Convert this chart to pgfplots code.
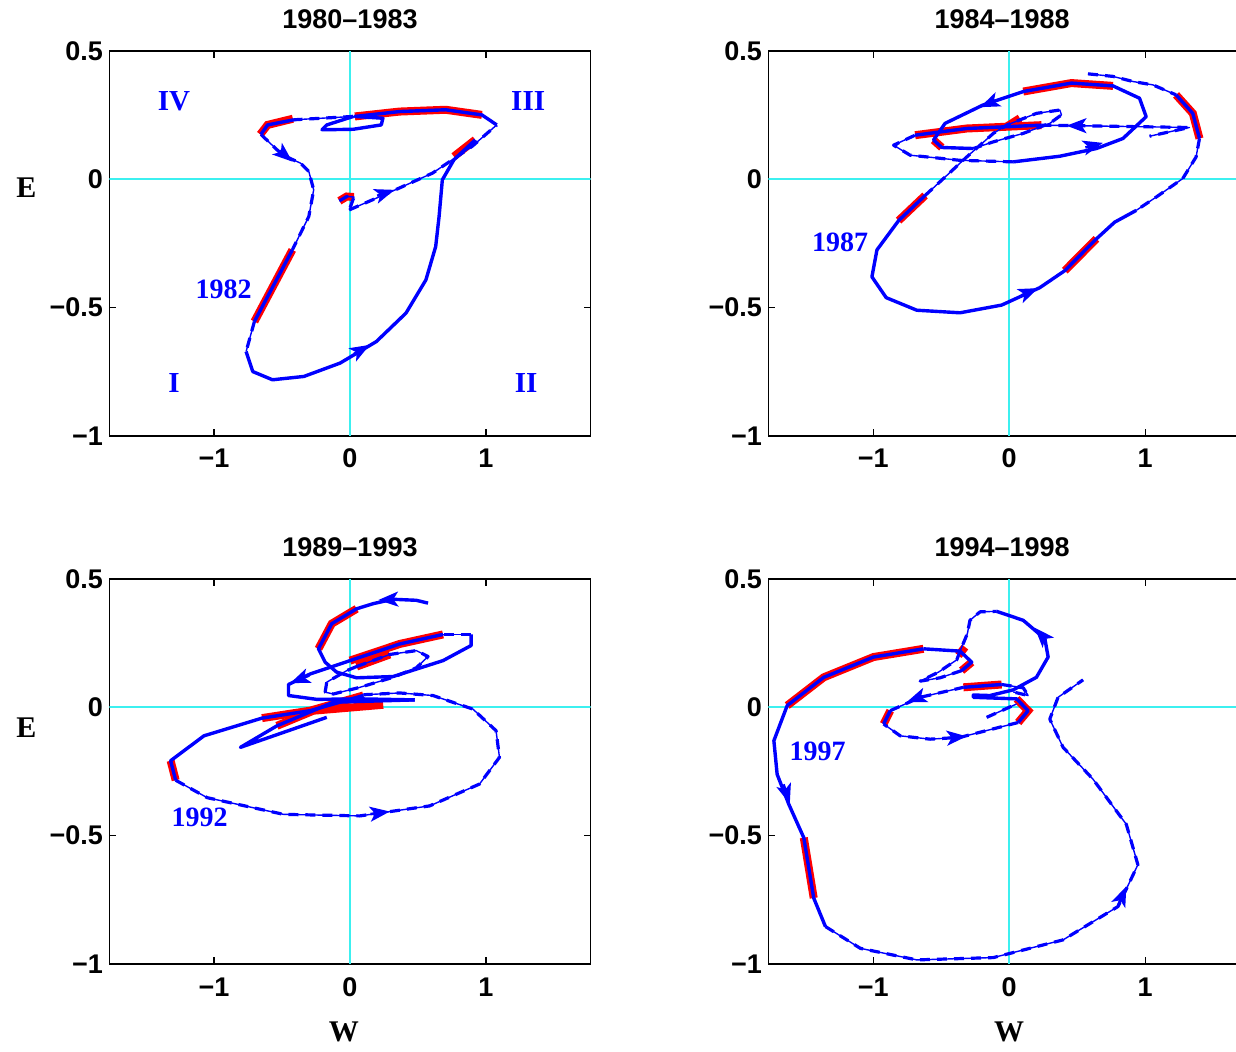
\documentclass[border=0pt]{standalone}
\usepackage{pgfplots}
\pgfplotsset{compat=1.18}
\usetikzlibrary{arrows.meta}
\usepackage{fontspec}
\setmainfont{Liberation Serif}
\setsansfont{Liberation Sans}
\definecolor{zcyan}{RGB}{60,240,240}

\pgfplotsset{
  panel/.style={
    scale only axis, height=192.5pt,
    ymin=-1, ymax=0.5, ytick={-1,-0.5,0,0.5}, yticklabels={−1,−0.5,0,0.5},
    xtick={-1,0,1}, xticklabels={−1,0,1},
    tick align=inside, major tick length=3.5pt,
    axis line style={black, line width=0.7pt},
    tick style={black, line width=0.6pt},
    ticklabel style={font=\sffamily\bfseries\fontsize{13.5}{14}\selectfont},
    xticklabel style={anchor=base, yshift=-16pt},
    yticklabel style={anchor=east, inner sep=0pt, xshift=-3pt},
    every axis title/.style={at={(0.5,1)}, anchor=base, yshift=11pt,
      font=\sffamily\bfseries\fontsize{13.5}{14}\selectfont},
    every axis y label/.style={anchor=center, xshift=-41.5pt,
      font=\rmfamily\bfseries\fontsize{15}{15}\selectfont},
    every axis x label/.style={anchor=center, yshift=-34pt,
      font=\rmfamily\bfseries\fontsize{15}{15}\selectfont},
  },
  lpanel/.style={panel, width=240.7pt, xmin=-1.77, xmax=1.77},
  rpanel/.style={panel, width=233.8pt, xmin=-1.772, xmax=1.667,
    axis x line*=box, axis y line*=left},
  thk/.style={blue, line width=1.7pt, line join=round, no markers},
  thn/.style={blue, line width=0.7pt, line join=round, no markers,
    postaction={draw, blue, line width=1.6pt, dash pattern=on 5pt off 3.5pt}},
  hl/.style={red, line width=4pt, no markers},
  arr/.style={blue, line width=1.3pt, no markers, -{Stealth[length=10pt,width=7.5pt,inset=2.5pt]}},
  zl/.style={draw=zcyan, line width=1pt, no markers},
}
\tikzset{
  lbl/.style={text=blue, font=\rmfamily\bfseries\fontsize{14.5}{15}\selectfont},
  yr/.style={text=blue, font=\rmfamily\bfseries\fontsize{14}{15}\selectfont},
}

\begin{document}
\begin{tikzpicture}
\useasboundingbox (0,0) rectangle (618pt,-526pt);

% ---------------- 1980-1983
\begin{axis}[lpanel, at={(54.65pt,-25.5pt)}, anchor=north west,
  title={1980–1983}, ylabel={E},
  ylabel style={at={(axis description cs:0,0.646)}}]
\addplot[zl] coordinates {(0,-1) (0,0.5)};
\addplot[zl] coordinates {(-1.77,0) (1.77,0)};
% highlighted stretches
\addplot[hl] coordinates {(-0.078,-0.084) (-0.024,-0.067) (0.029,-0.069)};
\addplot[hl] coordinates {(-0.66,0.175) (-0.606,0.212) (-0.42,0.236)};
\addplot[hl] coordinates {(0.036,0.245) (0.364,0.264) (0.703,0.271) (0.970,0.251)};
\addplot[hl] coordinates {(0.764,0.089) (0.921,0.154)};
\addplot[hl] coordinates {(-0.424,-0.275) (-0.703,-0.554)};
% trajectory
\addplot[thn] coordinates {(-0.078,-0.084) (-0.024,-0.067) (0.029,-0.069) (-0.005,-0.119)};
\addplot[thn] coordinates {(-0.005,-0.119) (0.291,-0.051) (0.606,0.024) (0.752,0.076) (0.897,0.128) (1.079,0.212)};
\addplot[thk] coordinates {(1.079,0.212) (0.970,0.251) (0.703,0.271) (0.364,0.264) (0.036,0.245) (0.242,0.238) (0.230,0.212) (0.024,0.195) (-0.206,0.193) (-0.170,0.212) (0.024,0.245)};
\addplot[thn] coordinates {(0.024,0.245) (-0.412,0.232)};
\addplot[thk] coordinates {(-0.412,0.232) (-0.606,0.212) (-0.655,0.175)};
\addplot[thn] coordinates {(-0.655,0.175) (-0.497,0.095) (-0.364,0.063) (-0.303,0.031) (-0.267,-0.041) (-0.303,-0.145) (-0.424,-0.275)};
\addplot[thk] coordinates {(-0.424,-0.275) (-0.703,-0.554)};
\addplot[thn] coordinates {(-0.703,-0.554) (-0.764,-0.671)};
\addplot[thk] coordinates {(-0.764,-0.671) (-0.715,-0.749) (-0.570,-0.781) (-0.339,-0.768) (-0.073,-0.716) (0.194,-0.632) (0.412,-0.521) (0.558,-0.392) (0.630,-0.262) (0.655,-0.145) (0.679,-0.002) (0.764,0.076) (0.921,0.154)};
\addplot[arr] coordinates {(-0.52,0.112) (-0.424,0.069)};
\addplot[arr] coordinates {(0.20,-0.064) (0.327,-0.041)};
\addplot[arr] coordinates {(0.03,-0.680) (0.145,-0.645)};
\node[lbl] at (axis cs:-1.295,0.306) {IV};
\node[lbl] at (axis cs:1.31,0.306) {III};
\node[lbl] at (axis cs:-1.295,-0.793) {I};
\node[lbl] at (axis cs:1.295,-0.793) {II};
\node[yr] at (axis cs:-0.93,-0.427) {1982};
\end{axis}

% ---------------- 1984-1988
\begin{axis}[rpanel, at={(384.15pt,-25.5pt)}, anchor=north west,
  title={1984–1988}]
\addplot[zl] coordinates {(0,-1) (0,0.5)};
\addplot[zl] coordinates {(-1.772,0) (1.667,0)};
\addplot[hl] coordinates {(1.227,0.329) (1.350,0.257) (1.399,0.159)};
\addplot[hl] coordinates {(0.641,-0.232) (0.408,-0.356)};
\addplot[hl] coordinates {(-0.814,-0.161) (-0.619,-0.063)};
\addplot[hl] coordinates {(-0.020,0.205) (0.078,0.238)};
\addplot[hl] coordinates {(-0.557,0.153) (-0.496,0.124)};
\addplot[hl] coordinates {(0.103,0.342) (0.457,0.375) (0.763,0.364)};
\addplot[hl] coordinates {(-0.692,0.172) (-0.313,0.198) (0.237,0.211)};
\addplot[thn] coordinates {(0.579,0.411) (0.763,0.401) (0.910,0.381) (1.056,0.368) (1.227,0.329)};
\addplot[thk] coordinates {(1.227,0.329) (1.350,0.257) (1.399,0.159)};
\addplot[thn] coordinates {(1.399,0.159) (1.374,0.087) (1.276,0.003) (1.081,-0.069) (0.934,-0.121)};
\addplot[thk] coordinates {(0.934,-0.121) (0.775,-0.167) (0.641,-0.232) (0.408,-0.356) (0.225,-0.422) (-0.056,-0.490) (-0.362,-0.520) (-0.680,-0.510) (-0.905,-0.461) (-1.010,-0.380) (-0.973,-0.275) (-0.814,-0.161) (-0.619,-0.063)};
\addplot[thn] coordinates {(-0.619,-0.063) (-0.484,0.003) (-0.313,0.087) (-0.117,0.179) (-0.020,0.211) (0.200,0.257) (0.372,0.270) (0.384,0.251) (0.298,0.218) (0.103,0.179) (-0.117,0.146) (-0.264,0.120)};
\addplot[thk] coordinates {(-0.264,0.120) (-0.496,0.124) (-0.557,0.153) (-0.472,0.218) (-0.191,0.290) (0.103,0.342) (0.457,0.375) (0.763,0.364) (0.958,0.316) (1.007,0.244) (0.836,0.159) (0.641,0.120) (0.372,0.090) (0.029,0.068)};
\addplot[thn] coordinates {(0.029,0.068) (-0.362,0.074) (-0.729,0.094) (-0.851,0.133) (-0.692,0.172)};
\addplot[thk] coordinates {(-0.692,0.172) (-0.313,0.198) (0.237,0.211)};
\addplot[thn] coordinates {(0.237,0.211) (1.325,0.202) (1.032,0.168)};
\addplot[arr] coordinates {(-0.10,0.307) (-0.215,0.281)};
\addplot[arr] coordinates {(0.56,0.124) (0.689,0.142)};
\addplot[arr] coordinates {(0.54,0.209) (0.421,0.209)};
\addplot[arr] coordinates {(0.09,-0.452) (0.213,-0.424)};
\node[yr] at (axis cs:-1.244,-0.247) {1987};
\end{axis}

% ---------------- 1989-1993
\begin{axis}[lpanel, at={(54.65pt,-289.5pt)}, anchor=north west,
  title={1989–1993}, ylabel={E}, xlabel={W},
  ylabel style={at={(axis description cs:0,0.613)}},
  xlabel style={at={(axis description cs:0.4875,0)}}]
\addplot[zl] coordinates {(0,-1) (0,0.5)};
\addplot[zl] coordinates {(-1.77,0) (1.77,0)};
\addplot[hl] coordinates {(0.049,0.384) (-0.134,0.326) (-0.232,0.228)};
\addplot[hl] coordinates {(0.684,0.284) (0.366,0.247) (0.000,0.182)};
\addplot[hl] coordinates {(0.049,0.159) (0.293,0.206)};
\addplot[hl] coordinates {(-0.647,-0.042) (-0.293,-0.013) (0.098,0.046)};
\addplot[hl] coordinates {(-0.537,-0.072) (-0.269,-0.013) (0.244,0.010)};
\addplot[hl] coordinates {(-1.319,-0.208) (-1.282,-0.284)};
\addplot[thk] coordinates {(0.574,0.406) (0.488,0.417) (0.317,0.421) (0.171,0.404) (0.049,0.384) (-0.134,0.326) (-0.232,0.228) (-0.183,0.176) (-0.098,0.137) (0.049,0.115) (0.317,0.120) (0.684,0.182) (0.891,0.241) (0.891,0.284)};
\addplot[thn] coordinates {(0.891,0.284) (0.684,0.284)};
\addplot[thk] coordinates {(0.684,0.284) (0.366,0.247) (0.000,0.182) (-0.293,0.130) (-0.452,0.089) (-0.452,0.046) (-0.244,0.031) (0.073,0.033) (0.476,0.029)};
\addplot[thn] coordinates {(0.049,0.159) (0.293,0.206) (0.488,0.221) (0.574,0.198) (0.488,0.154) (0.317,0.117) (0.073,0.078) (-0.122,0.052) (-0.183,0.059) (-0.171,0.098) (-0.024,0.143) (0.049,0.159)};
\addplot[thk] coordinates {(0.476,0.029) (-0.122,0.020) (-0.537,-0.072) (-0.806,-0.156) (-0.171,-0.039)};
\addplot[thk] coordinates {(0.098,0.046) (-0.293,-0.013) (-0.647,-0.042) (-1.074,-0.111) (-1.319,-0.208) (-1.282,-0.284)};
\addplot[thn] coordinates {(-1.282,-0.284) (-1.050,-0.352) (-0.488,-0.417) (0.073,-0.423) (0.586,-0.384) (0.952,-0.299) (1.099,-0.195) (1.074,-0.091) (0.904,-0.007) (0.610,0.046) (0.366,0.056) (0.098,0.049)};
\addplot[arr] coordinates {(0.33,0.421) (0.208,0.418)};
\addplot[arr] coordinates {(-0.30,0.124) (-0.440,0.094)};
\addplot[arr] coordinates {(0.15,-0.416) (0.293,-0.406)};
\node[yr] at (axis cs:-1.105,-0.43) {1992};
\end{axis}

% ---------------- 1994-1998
\begin{axis}[rpanel, at={(384.15pt,-289.5pt)}, anchor=north west,
  title={1994–1998}, xlabel={W},
  xlabel style={at={(axis description cs:0.515,0)}}]
\addplot[zl] coordinates {(0,-1) (0,0.5)};
\addplot[zl] coordinates {(-1.772,0) (1.667,0)};
\addplot[hl] coordinates {(-0.631,0.228) (-0.998,0.196) (-1.364,0.117) (-1.633,0.007)};
\addplot[hl] coordinates {(-1.511,-0.508) (-1.438,-0.743)};
\addplot[hl] coordinates {(-0.374,0.202) (-0.325,0.235)};
\addplot[hl] coordinates {(-0.276,0.176) (-0.350,0.143)};
\addplot[hl] coordinates {(0.054,0.033) (0.139,-0.013) (0.066,-0.059)};
\addplot[hl] coordinates {(-0.924,-0.065) (-0.875,-0.013)};
\addplot[hl] coordinates {(-0.337,0.078) (-0.056,0.089)};
\addplot[thk] coordinates {(-0.631,0.228) (-0.998,0.196) (-1.364,0.117) (-1.633,0.007) (-1.731,-0.130) (-1.707,-0.261) (-1.621,-0.378) (-1.511,-0.508) (-1.438,-0.743) (-1.352,-0.854)};
\addplot[thn] coordinates {(-1.352,-0.854) (-1.095,-0.939) (-0.680,-0.984) (-0.117,-0.975) (0.396,-0.906) (0.800,-0.776) (0.946,-0.613) (0.861,-0.456) (0.616,-0.280) (0.396,-0.156) (0.298,-0.046) (0.359,0.039) (0.543,0.107)};
\addplot[thk] coordinates {(-0.631,0.228) (-0.362,0.219) (-0.276,0.176) (-0.350,0.143)};
\addplot[thn] coordinates {(-0.350,0.143) (-0.509,0.115) (-0.655,0.102) (-0.521,0.137) (-0.386,0.185) (-0.362,0.219) (-0.308,0.287) (-0.289,0.339) (-0.215,0.372) (-0.093,0.374)};
\addplot[thk] coordinates {(-0.093,0.374) (0.103,0.339) (0.262,0.267) (0.286,0.196) (0.200,0.117) (0.029,0.068) (-0.142,0.046) (-0.264,0.048) (-0.264,0.039) (0.054,0.033) (0.139,-0.013) (0.066,-0.059)};
\addplot[thn] coordinates {(0.066,-0.059) (-0.362,-0.117) (-0.582,-0.124) (-0.802,-0.111) (-0.924,-0.065)};
\addplot[thk] coordinates {(-0.924,-0.065) (-0.875,-0.013)};
\addplot[thn] coordinates {(-0.875,-0.013) (-0.655,0.039) (-0.337,0.078)};
\addplot[thk] coordinates {(-0.337,0.078) (-0.056,0.089)};
\addplot[thn] coordinates {(-0.056,0.089) (0.103,0.076) (0.139,0.046) (0.029,0.060)};
\addplot[thn] coordinates {(-0.166,-0.039) (0.054,0.013)};
\addplot[arr] coordinates {(-1.66,-0.30) (-1.614,-0.376)};
\addplot[arr] coordinates {(0.80,-0.772) (0.861,-0.698)};
\addplot[arr] coordinates {(-0.64,0.043) (-0.753,0.021)};
\addplot[arr] coordinates {(-0.44,-0.119) (-0.313,-0.113)};
\addplot[arr] coordinates {(0.27,0.262) (0.188,0.310)};
\node[yr] at (axis cs:-1.41,-0.173) {1997};
\end{axis}
\end{tikzpicture}
\end{document}
